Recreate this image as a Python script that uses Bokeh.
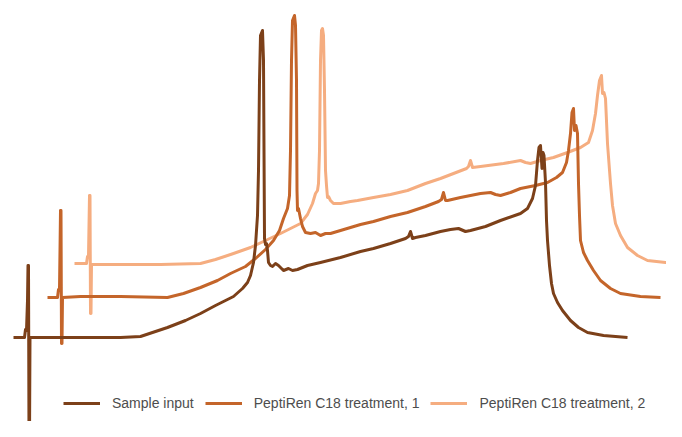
from bokeh.plotting import figure
from bokeh.models import Range1d, Legend, LegendItem
from bokeh.embed import file_html
from bokeh.resources import INLINE

# Retention position (x) and detector intensity (y)
sample_x = [13, 24, 25, 26, 27, 27.5, 28, 28.5, 29, 29.5, 40, 80, 120, 140, 155, 167, 185, 200, 215, 233,
            242, 247, 250, 253, 255, 257, 258, 259, 260, 262, 263, 263.5, 264, 265, 266, 267, 268, 270,
            272, 275, 278, 283, 288, 292, 297, 307, 320, 340, 360, 373, 390, 405, 408, 410, 412, 415,
            425, 440, 450, 458, 465, 470, 485, 500, 520, 527, 532, 535, 537, 538.5, 540, 541.5, 542.5,
            543.5, 545, 546, 547, 549, 551, 553, 557, 562, 570, 578, 587, 603, 627]
sample_y = [100, 100, 108, 107, 137, 172, 172, -1, -3, 100, 100, 100, 100, 101, 106, 110, 117, 124, 132, 141,
            149, 155, 162, 175, 192, 222, 267, 357, 402, 407, 377, 287, 199, 193, 194, 187, 175, 172,
            171, 174, 172, 167, 169, 167, 168, 172, 175, 180, 186, 189, 194, 199, 201, 206, 199, 200,
            202, 206, 208, 209, 206, 207, 211, 217, 224, 229, 239, 252, 277, 290, 292, 269, 285,
            282, 255, 217, 197, 172, 154, 144, 135, 127, 117, 110, 105, 102, 100]

treat1_x = [47, 57, 58, 59, 59.5, 60, 60.5, 61, 61.5, 62, 80, 120, 167, 183, 200, 217, 230, 245, 255, 265,
            273, 279, 283, 287, 289, 290, 291, 292, 294, 295, 296, 296.5, 297, 298, 300, 302, 305, 310,
            315, 320, 325, 330, 340, 360, 373, 390, 407, 425, 438, 441, 443, 445, 447, 460, 470, 480,
            490, 495, 500, 510, 520, 535, 547, 556, 562, 566, 568, 570, 571.5, 573, 574, 575.5, 577,
            578, 579, 580, 583, 587, 593, 600, 610, 620, 640, 660]
treat1_y = [140, 140, 148, 149, 187, 227, 227, 94, 94, 140, 141, 141, 140, 144, 150, 157, 164, 171, 179, 188,
            197, 207, 219, 229, 242, 287, 377, 417, 422, 412, 357, 247, 227, 229, 219, 211, 205, 204,
            205, 202, 204, 204, 207, 213, 216, 221, 225, 231, 236, 238, 245, 237, 237, 240, 242, 244,
            245, 243, 242, 245, 249, 252, 255, 260, 265, 275, 287, 304, 325, 329, 307, 312, 304,
            254, 222, 197, 185, 177, 167, 157, 149, 144, 141, 140]

treat2_x = [74, 86, 87, 88, 88.5, 89, 89.5, 90, 90.5, 91, 120, 160, 200, 215, 233, 250, 265, 280, 290, 300,
            307, 312, 315, 317, 318, 319, 320, 321, 322, 323, 324, 325, 326, 327, 328, 330, 333, 340,
            350, 357, 373, 390, 407, 425, 440, 453, 466, 468, 470, 472, 480, 503, 520, 525, 530, 540,
            553, 567, 580, 588, 592, 595, 597, 599, 601, 602, 603.5, 605, 607, 610, 612, 615, 620,
            627, 637, 647, 665, 682]
treat2_y = [174, 174, 181, 182, 212, 242, 242, 124, 124, 173, 173, 173, 174, 178, 184, 190, 197, 204, 209, 214,
            223, 234, 244, 247, 254, 287, 377, 407, 409, 402, 347, 267, 252, 240, 241, 237, 234, 234,
            236, 237, 240, 243, 247, 254, 259, 264, 269, 271, 277, 270, 271, 274, 277, 275, 274, 277,
            280, 285, 290, 295, 307, 324, 342, 357, 362, 344, 345, 339, 294, 254, 232, 214, 202,
            190, 182, 177, 175, 174]

labels = ["Sample input", "PeptiRen C18 treatment, 1", "PeptiRen C18 treatment, 2"]
colors = ["#7c4019", "#c4652a", "#f5ad80"]

p = figure(width=666, height=421, output_backend="svg", toolbar_location=None,
           x_range=Range1d(0, 666), y_range=Range1d(16, 437),
           min_border=0, outline_line_color=None, background_fill_color="white")
p.axis.visible = False
p.grid.visible = False

# draw lightest (back) first so darker traces sit on top
r3 = p.line(treat2_x, treat2_y, line_color=colors[2], line_width=3, line_join="round")
r2 = p.line(treat1_x, treat1_y, line_color=colors[1], line_width=3, line_join="round")
r1 = p.line(sample_x, sample_y, line_color=colors[0], line_width=3, line_join="round")

legend = Legend(items=[LegendItem(label=labels[0], renderers=[r1]),
                       LegendItem(label=labels[1], renderers=[r2]),
                       LegendItem(label=labels[2], renderers=[r3])],
                orientation="horizontal", location=(63, 8),
                padding=0, margin=0, spacing=11, glyph_width=37, glyph_height=20,
                label_standoff=12, label_text_font="Liberation Sans", label_text_font_size="14px",
                label_text_color="#4d4d4d", border_line_color=None, background_fill_alpha=0)
p.add_layout(legend, "center")

open("out.html", "w").write(file_html(p, INLINE))
